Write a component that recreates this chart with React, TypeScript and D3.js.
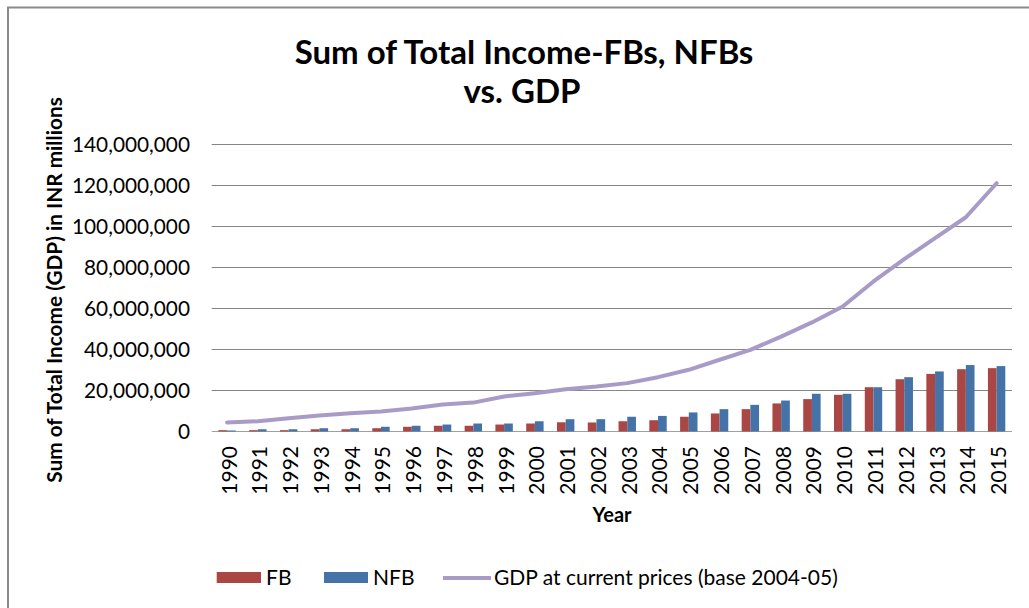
import React from "react";
import * as d3 from "d3";

const years = ["1990","1991","1992","1993","1994","1995","1996","1997","1998","1999","2000","2001","2002","2003","2004","2005","2006","2007","2008","2009","2010","2011","2012","2013","2014","2015"];
const fbValues = [650000,650000,650000,1100000,1100000,1600000,2300000,2800000,2800000,3400000,3900000,4500000,4400000,5000000,5500000,7200000,8800000,10900000,13700000,15800000,17900000,21600000,25500000,28100000,30400000,30900000];
const nfbValues = [500000,1100000,1100000,1600000,1600000,2300000,2800000,3400000,3900000,3900000,5000000,6000000,6000000,7200000,7600000,9300000,10900000,13000000,15100000,18400000,18400000,21600000,26500000,29300000,32400000,31900000];
const gdpValues = [4400000,5000000,6500000,7800000,8900000,9800000,11200000,13200000,14100000,17100000,18700000,20600000,21900000,23600000,26500000,30100000,35000000,39800000,46300000,53200000,61000000,73200000,84100000,94300000,104500000,121100000];
const yTicks = [0,20000000,40000000,60000000,80000000,100000000,120000000,140000000];
const seriesNames = ["FB","NFB"];
const lineName = "GDP at current prices (base 2004-05)";
const titleLines = ["Sum of Total Income-FBs, NFBs","vs. GDP"];
const yTitle = "Sum of Total Income (GDP) in INR millions";
const xTitle = "Year";

const W = 1029, H = 608;
const FONT = "Lato, 'Open Sans', sans-serif";
const colors = { FB: "#AA4643", NFB: "#4572A7", GDP: "#A99BC8" };

export default function App() {
  const x = d3.scaleBand<string>().domain(years).range([211.7, 1012]).paddingInner(0).paddingOuter(0);
  const x1 = d3.scaleBand<string>().domain(seriesNames).range([0, x.bandwidth()]).paddingInner(0).paddingOuter(0.77);
  const y = d3.scaleLinear().domain([0, 140000000]).range([431.5, 144.5]);
  const fmt = d3.format(",");
  const cx = (yr: string) => (x(yr) as number) + x.bandwidth() / 2;
  const line = d3.line<number>().x((_, i) => cx(years[i])).y((d) => y(d));
  const seriesData: Record<string, number[]> = { FB: fbValues, NFB: nfbValues };

  return (
    <svg width={W} height={H} style={{ position: "absolute", left: 0, top: 0, display: "block", background: "#fff" }} fontFamily={FONT}>
      <rect x={0} y={0} width={W} height={H} fill="#fff" />
      <rect x={8} y={7.5} width={W + 20} height={H + 20} fill="none" stroke="#8a8a8a" strokeWidth={2} />
      {/* title */}
      <text x={524} y={64} textAnchor="middle" fontSize={33} fontWeight="bold" fill="#000">{titleLines[0]}</text>
      <text x={522} y={103} textAnchor="middle" fontSize={33} fontWeight="bold" fill="#000">{titleLines[1]}</text>
      {/* gridlines */}
      {yTicks.map((t) => (
        <line key={"g" + t} x1={211.7} x2={1012} y1={y(t)} y2={y(t)} stroke={t === 0 ? "#a0a0a0" : "#868686"} strokeWidth={1} />
      ))}
      {/* y tick labels */}
      {yTicks.map((t) => (
        <text key={"t" + t} x={190} y={y(t)} dy="0.36em" textAnchor="end" fontSize={20.8} fill="#000">{fmt(t)}</text>
      ))}
      {/* bars */}
      {seriesNames.map((s) => (
        <g key={s} fill={(colors as any)[s]}>
          {seriesData[s].map((v, i) => (
            <rect key={i} x={(x(years[i]) as number) + (x1(s) as number)} y={y(v)} width={x1.bandwidth()} height={y(0) - y(v)} />
          ))}
        </g>
      ))}
      {/* line */}
      <path d={line(gdpValues) as string} fill="none" stroke={colors.GDP} strokeWidth={4} strokeLinejoin="round" strokeLinecap="round" />
      {/* x labels */}
      {years.map((yr) => (
        <text key={yr} transform={`translate(${cx(yr)},446) rotate(-90)`} dy="0.45em" textAnchor="end" fontSize={21} fill="#000">{yr}</text>
      ))}
      {/* axis titles */}
      <text transform="translate(62,290) rotate(-90)" textAnchor="middle" fontSize={20.8} fontWeight="bold" fill="#000">{yTitle}</text>
      <text x={612} y={522} textAnchor="middle" fontSize={20} fontWeight="bold" fill="#000">{xTitle}</text>
      {/* legend */}
      <rect x={216.7} y={572} width={44.3} height={11} fill={colors.FB} />
      <text x={266} y={585} fontSize={21} fill="#000">{seriesNames[0]}</text>
      <rect x={324} y={572} width={44} height={11} fill={colors.NFB} />
      <text x={373} y={585} fontSize={21} fill="#000">{seriesNames[1]}</text>
      <line x1={443} x2={491} y1={578} y2={578} stroke={colors.GDP} strokeWidth={4} />
      <text x={494} y={585} fontSize={21} fill="#000">{lineName}</text>
    </svg>
  );
}
